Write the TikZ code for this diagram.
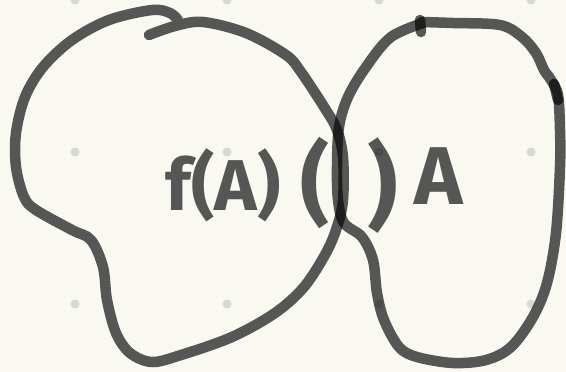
\documentclass[tikz,border=0pt]{standalone}
\usepackage{fontspec}
\setmainfont{Fira Sans}
\definecolor{paper}{HTML}{F9F9F1}
\definecolor{griddot}{HTML}{D9D9D3}
\definecolor{ink}{HTML}{000000}
\begin{document}
\begin{tikzpicture}[x=1pt,y=-1pt,
  pen/.style={draw=ink,draw opacity=0.65,line width=10.5pt,line cap=round,line join=round},
  hand/.style={text=ink,text opacity=0.65,inner sep=0pt,font=\bfseries},
  gdot/.style={fill=griddot}]
\fill[paper] (0,0) rectangle (566,372);
\useasboundingbox (0,0) rectangle (566,372);
\foreach \gx in {75,227,379,531}{
  \foreach \gy in {0,152,304}{
    \fill[gdot] (\gx,\gy) circle (4.5pt);
  }
}
% left blob
\draw[pen] plot[smooth,tension=0.55] coordinates {
 (149,35) (175,26) (203,22) (246,33) (286,55) (301,72) (326,110) (337,130)
 (343,157) (343,200) (337,227) (326,253) (304,287) (275,313) (232,337)
 (181,355) (152,362) (130,353) (116,333) (107,300) (103,267) (91,240)
 (72,230) (36,210) (24,197) (16,167) (16,133) (25,97) (43,67) (72,40)
 (109,20) (152,10) (170,13) (178,20)};
% right blob
\draw[pen] plot[smooth,tension=0.55] coordinates {
 (422,22) (453,23) (500,25) (522,37) (536,53) (544,70) (551,80)
 (558,95) (560,130) (560,167) (556,233) (547,283) (533,317) (511,347)
 (486,360) (453,363) (417,357) (399,347) (384,320) (377,293) (373,260)
 (362,237) (344,223) (338,200) (337,167) (339,127) (348,97) (366,67)
 (391,37) (426,22)};
\draw[pen] (420,20) -- (421,32);
\draw[pen] (554,84) -- (558,100);
% texts
\node[hand,font=\bfseries\fontsize{72}{72}\selectfont] (fa) at (223,185) {f(A)};
\node[hand,font=\bfseries\fontsize{90}{90}\selectfont] (lp) at (315,183) {(};
\node[hand,font=\bfseries\fontsize{94}{94}\selectfont] (rp) at (383,186) {)};
\node[hand,font=\bfseries\fontsize{82}{82}\selectfont] (a) at (439,176) {A};
\end{tikzpicture}
\end{document}
